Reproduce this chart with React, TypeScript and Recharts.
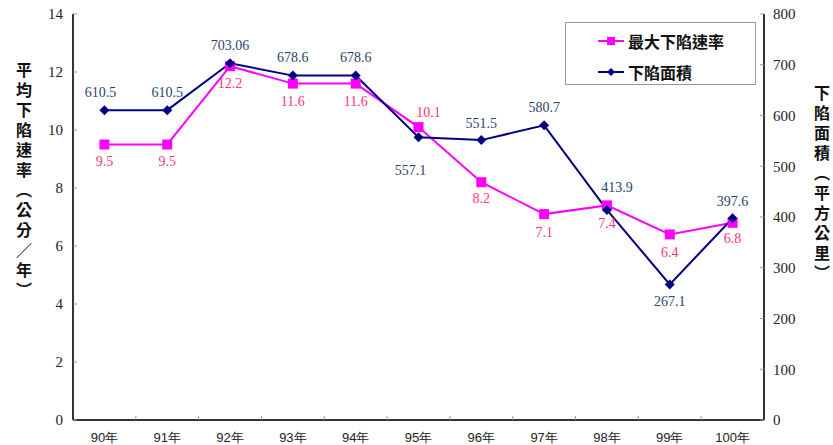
import React from 'react';
import { LineChart, Line, XAxis, YAxis, Legend, LabelList } from 'recharts';

const years = ['90年', '91年', '92年', '93年', '94年', '95年', '96年', '97年', '98年', '99年', '100年'];
const sinkRate = [9.5, 9.5, 12.2, 11.6, 11.6, 10.1, 8.2, 7.1, 7.4, 6.4, 6.8];
const sinkArea = [610.5, 610.5, 703.06, 678.6, 678.6, 557.1, 551.5, 580.7, 413.9, 267.1, 397.6];
const rateTicks = [0, 2, 4, 6, 8, 10, 12, 14];
const areaTicks = [0, 100, 200, 300, 400, 500, 600, 700, 800];

// where each value label sits relative to its point: [dx, dy]
const rateLabelShift = [[0, 17], [0, 17], [0, 17], [0, 18], [0, 18], [10, -15], [0, 16], [0, 18], [0, 18], [0, 18], [0, 16]];
const areaLabelShift = [[-4, -18], [0, -18], [0, -18], [0, -18], [0, -18], [-8, 33], [0, -17], [0, -18], [10, -22], [0, 17], [0, -17]];

const data = years.map((year, i) => ({ year, rate: sinkRate[i], area: sinkArea[i] }));

const W = 833;
const H = 445;
const LEFT = 73;
const RIGHT_W = 69;
const BAND = (W - LEFT - RIGHT_W) / years.length;

const RATE_LINE = '#FF00FF';
const RATE_TEXT = '#FF3380';
const AREA_LINE = '#000080';
const AREA_TEXT = '#2A4468';
const SERIF = '"Liberation Serif", "DejaVu Serif", serif';
const CJK = '"Noto Sans CJK TC", "Noto Sans CJK SC", sans-serif';

const SquareDot = (props: any) => {
  const { cx, cy } = props;
  if (cx == null || cy == null) return null;
  return <rect x={cx - 5} y={cy - 5} width={10} height={10} fill={RATE_LINE} />;
};

const DiamondDot = (props: any) => {
  const { cx, cy } = props;
  if (cx == null || cy == null) return null;
  return <polygon points={`${cx},${cy - 5} ${cx + 5},${cy} ${cx},${cy + 5} ${cx - 5},${cy}`} fill={AREA_LINE} />;
};

const makeLabel = (color: string, shift: number[][]) => (props: any) => {
  const { x, y, value, index } = props;
  const [dx, dy] = shift[index] || [0, 0];
  return (
    <text x={x + dx} y={y + dy} textAnchor="middle" dominantBaseline="central"
      fill={color} fontSize={14} fontFamily={SERIF}>
      {value}
    </text>
  );
};

// category label plus a small inward tick at the right edge of each band
const YearTick = (props: any) => {
  const { x, y, payload, index } = props;
  return (
    <g>
      {index < years.length - 1 && (
        <line x1={x + BAND / 2} x2={x + BAND / 2} y1={y} y2={y - 4} stroke="#999" />
      )}
      <text x={x} y={y + 17} textAnchor="middle" dominantBaseline="central"
        fill="#222" fontSize={13} fontFamily='"Liberation Sans", sans-serif'>
        {payload.value}
      </text>
    </g>
  );
};

const LegendIcon = ({ square }: { square: boolean }) => (
  <svg width={26} height={12} style={{ display: 'block' }}>
    <line x1={0} x2={26} y1={6} y2={6} stroke={square ? RATE_LINE : AREA_LINE} strokeWidth={2} />
    {square
      ? <rect x={9} y={2} width={8} height={8} fill={RATE_LINE} />
      : <polygon points="13,2 17,6 13,10 9,6" fill={AREA_LINE} />}
  </svg>
);

const LegendBox = () => (
  <div style={{ position: 'relative', width: 191, height: 63, border: '1px solid #999', background: '#fff', boxSizing: 'border-box' }}>
    {[
      { name: '最大下陷速率', square: true, top: 18 },
      { name: '下陷面積', square: false, top: 49 },
    ].map((item) => (
      <div key={item.name} style={{ position: 'absolute', left: 32, top: item.top - 10, height: 20, display: 'flex', alignItems: 'center' }}>
        <LegendIcon square={item.square} />
        <span style={{ marginLeft: 4, fontFamily: CJK, fontWeight: 700, fontSize: 16, color: '#111', lineHeight: '20px' }}>
          {item.name}
        </span>
      </div>
    ))}
  </div>
);

const VerticalTitle = ({ text, left, top }: { text: string; left: number; top: number }) => (
  <div style={{
    position: 'absolute', left, top, writingMode: 'vertical-rl', fontFamily: CJK, fontWeight: 700,
    fontSize: 16, lineHeight: '20px', letterSpacing: 4, color: '#111',
  }}>
    {text}
  </div>
);

export default function App() {
  const pad = { left: BAND / 2, right: BAND / 2 };
  return (
    <div style={{ position: 'absolute', left: 0, top: 0, width: W, height: H, background: '#fff' }}>
      <LineChart width={W} height={H} data={data} margin={{ top: 14, right: 0, bottom: 0, left: 0 }}>
        <XAxis dataKey="year" height={25} padding={pad} tick={<YearTick />} tickLine={false} tickSize={0} tickMargin={0}
          interval={0} axisLine={{ stroke: '#333', strokeWidth: 2 }} />
        <XAxis xAxisId="top" dataKey="year" orientation="top" height={0} padding={pad} tick={false} tickLine={false}
          axisLine={{ stroke: '#333', strokeWidth: 2 }} />
        <YAxis yAxisId="rate" width={LEFT} domain={[0, 14]} ticks={rateTicks} interval={0}
          tickSize={-4} tickMargin={14} tickLine={{ stroke: '#999' }}
          axisLine={{ stroke: '#333', strokeWidth: 2 }}
          tick={{ fontSize: 15, fill: '#222', fontFamily: SERIF }} />
        <YAxis yAxisId="area" orientation="right" width={RIGHT_W} domain={[0, 800]} ticks={areaTicks} interval={0}
          tickSize={-4} tickMargin={13} tickLine={{ stroke: '#999' }}
          axisLine={{ stroke: '#333', strokeWidth: 2 }}
          tick={{ fontSize: 15, fill: '#222', fontFamily: SERIF }} />
        <Legend layout="horizontal" verticalAlign="middle" align="center" content={<LegendBox />}
          wrapperStyle={{ left: 565, top: 22, width: 191, height: 63 }} />
        <Line yAxisId="rate" dataKey="rate" name="最大下陷速率" stroke={RATE_LINE} strokeWidth={2}
          dot={<SquareDot />} activeDot={false} isAnimationActive={false}>
          <LabelList dataKey="rate" content={makeLabel(RATE_TEXT, rateLabelShift)} />
        </Line>
        <Line yAxisId="area" dataKey="area" name="下陷面積" stroke={AREA_LINE} strokeWidth={2}
          dot={<DiamondDot />} activeDot={false} isAnimationActive={false}>
          <LabelList dataKey="area" content={makeLabel(AREA_TEXT, areaLabelShift)} />
        </Line>
      </LineChart>
      <VerticalTitle text="平均下陷速率（公分／年）" left={14} top={62} />
      <VerticalTitle text="下陷面積（平方公里）" left={812} top={85} />
    </div>
  );
}
